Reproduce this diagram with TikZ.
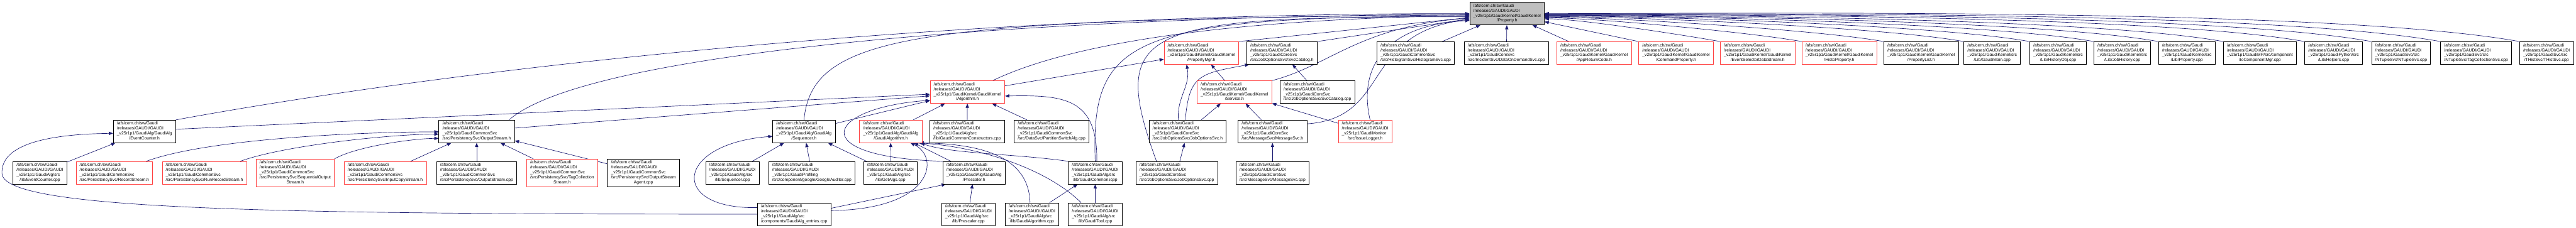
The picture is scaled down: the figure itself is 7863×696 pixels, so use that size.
\documentclass[tikz,border=0pt]{standalone}
\usepackage{fontspec}
\setmainfont{Liberation Sans}
\usepackage{tikz}
\usetikzlibrary{arrows.meta,backgrounds}
\definecolor{dxblue}{rgb}{0.10,0.10,0.44}
\definecolor{dxred}{rgb}{1.00,0.25,0.25}
\definecolor{dxgrey}{rgb}{0.75,0.75,0.75}
\newcommand{\gfile}[2]{\begin{tabular}{@{}l@{}}/afs/cern.ch/sw/Gaudi\\/releases/GAUDI/GAUDI\\\_v25r1p1/#1\\\multicolumn{1}{@{}c@{}}{#2}\end{tabular}}

\begin{document}
\begin{tikzpicture}[
  x=1pt, y=-1pt,
  fbox/.style={draw=black, line width=1.3pt, fill=white, inner xsep=11pt, inner ysep=4.5pt,
               font=\fontsize{13}{15}\selectfont},
  fred/.style={fbox, draw=dxred},
  fgrey/.style={fbox, fill=dxgrey},
  arr/.style={-{Triangle[length=13pt,width=10pt]}, dxblue, line width=1.3pt}
]
\useasboundingbox (0,0) rectangle (7863,696);

\node[fgrey] (prop) at (4600,41.5) {\gfile{GaudiKernel/GaudiKernel}{/Property.h}};

\node[fred] (propmgr) at (3667,162) {\gfile{GaudiKernel/GaudiKernel}{/PropertyMgr.h}};
\node[fbox] (svccath) at (3913,162) {\gfile{GaudiCoreSvc}{/src/JobOptionsSvc/SvcCatalog.h}};
\node[fbox] (histsvc) at (4321,162) {\gfile{GaudiCommonSvc}{/src/HistogramSvc/HistogramSvc.cpp}};
\node[fbox] (dods) at (4598,162) {\gfile{GaudiCoreSvc}{/src/IncidentSvc/DataOnDemandSvc.cpp}};
\node[fred] (apprc) at (4866,162) {\gfile{GaudiKernel/GaudiKernel}{/AppReturnCode.h}};
\node[fred] (cmdprop) at (5116,162) {\gfile{GaudiKernel/GaudiKernel}{/CommandProperty.h}};
\node[fred] (evsel) at (5365,162) {\gfile{GaudiKernel/GaudiKernel}{/EventSelectorDataStream.h}};
\node[fred] (histoprop) at (5614,162) {\gfile{GaudiKernel/GaudiKernel}{/HistoProperty.h}};
\node[fbox] (proplist) at (5864,162) {\gfile{GaudiKernel/GaudiKernel}{/PropertyList.h}};
\node[fbox] (gaudimain) at (6081,162) {\gfile{GaudiKernel/src}{/Lib/GaudiMain.cpp}};
\node[fbox] (histobj) at (6282,162) {\gfile{GaudiKernel/src}{/Lib/HistoryObj.cpp}};
\node[fbox] (jobhist) at (6478,162) {\gfile{GaudiKernel/src}{/Lib/JobHistory.cpp}};
\node[fbox] (propcpp) at (6675,162) {\gfile{GaudiKernel/src}{/Lib/Property.cpp}};
\node[fbox] (iocomp) at (6898,162) {\gfile{GaudiMP/src/component}{/IoComponentMgr.cpp}};
\node[fbox] (helpers) at (7123,162) {\gfile{GaudiPython/src}{/Lib/Helpers.cpp}};
\node[fbox] (ntuple) at (7329,162) {\gfile{GaudiSvc/src}{/NTupleSvc/NTupleSvc.cpp}};
\node[fbox] (tagcoll) at (7558,162) {\gfile{GaudiSvc/src}{/NTupleSvc/TagCollectionSvc.cpp}};
\node[fbox] (thist) at (7773,162) {\gfile{GaudiSvc/src}{/THistSvc/THistSvc.cpp}};

\node[fred] (algh) at (2953,281.5) {\gfile{GaudiKernel/GaudiKernel}{/Algorithm.h}};
\node[fred] (serviceh) at (3768,281.5) {\gfile{GaudiKernel/GaudiKernel}{/Service.h}};
\node[fbox] (svccatcpp) at (4021,281.5) {\gfile{GaudiCoreSvc}{/src/JobOptionsSvc/SvcCatalog.cpp}};

\node[fbox] (evcounth) at (441,401.5) {\gfile{GaudiAlg/GaudiAlg}{/EventCounter.h}};
\node[fbox] (outstreamh) at (1455,401.5) {\gfile{GaudiCommonSvc}{/src/PersistencySvc/OutputStream.h}};
\node[fbox] (seqh) at (2454,401.5) {\gfile{GaudiAlg/GaudiAlg}{/Sequencer.h}};
\node[fred] (gaudialgh) at (2719,401.5) {\gfile{GaudiAlg/GaudiAlg}{/GaudiAlgorithm.h}};
\node[fbox] (ctors) at (2952,401.5) {\gfile{GaudiAlg/src}{/lib/GaudiCommonConstructors.cpp}};
\node[fbox] (partsw) at (3210,401.5) {\gfile{GaudiCommonSvc}{/src/DataSvc/PartitionSwitchAlg.cpp}};
\node[fbox] (josvch) at (3625,401.5) {\gfile{GaudiCoreSvc}{/src/JobOptionsSvc/JobOptionsSvc.h}};
\node[fbox] (msgsvch) at (3884,401.5) {\gfile{GaudiCoreSvc}{/src/MessageSvc/MessageSvc.h}};
\node[fred] (issuelog) at (4167,401.5) {\gfile{GaudiMonitor}{/src/IssueLogger.h}};

\node[fbox] (evcountcpp) at (122,528) {\gfile{GaudiAlg/src}{/lib/EventCounter.cpp}};
\node[fred] (recstream) at (349,528) {\gfile{GaudiCommonSvc}{/src/PersistencySvc/RecordStream.h}};
\node[fred] (runrec) at (624,528) {\gfile{GaudiCommonSvc}{/src/PersistencySvc/RunRecordStream.h}};
\node[fred] (seqout) at (901,528) {\gfile{GaudiCommonSvc\\/src/PersistencySvc/SequentialOutput}{Stream.h}};
\node[fred] (inputcopy) at (1176,528) {\gfile{GaudiCommonSvc}{/src/PersistencySvc/InputCopyStream.h}};
\node[fbox] (outstreamcpp) at (1455,528) {\gfile{GaudiCommonSvc}{/src/PersistencySvc/OutputStream.cpp}};
\node[fred] (tagstream) at (1716,528) {\gfile{GaudiCommonSvc\\/src/PersistencySvc/TagCollection}{Stream.h}};
\node[fbox] (osagent) at (1964,528) {\gfile{GaudiCommonSvc\\/src/PersistencySvc/OutputStream}{Agent.cpp}};
\node[fbox] (seqcpp) at (2236,528) {\gfile{GaudiAlg/src}{/lib/Sequencer.cpp}};
\node[fbox] (google) at (2478,528) {\gfile{GaudiProfiling}{/src/component/google/GoogleAuditor.cpp}};
\node[fbox] (getalgs) at (2718,528) {\gfile{GaudiAlg/src}{/lib/GetAlgs.cpp}};
\node[fbox] (prescalerh) at (2973,528) {\gfile{GaudiAlg/GaudiAlg}{/Prescaler.h}};
\node[fbox] (gaudicommon) at (3343,528) {\gfile{GaudiAlg/src}{/lib/GaudiCommon.icpp}};
\node[fbox] (josvccpp) at (3592,528) {\gfile{GaudiCoreSvc}{/src/JobOptionsSvc/JobOptionsSvc.cpp}};
\node[fbox] (msgsvccpp) at (3884,528) {\gfile{GaudiCoreSvc}{/src/MessageSvc/MessageSvc.cpp}};

\node[fbox] (entries) at (2424,654.5) {\gfile{GaudiAlg/src}{/components/GaudiAlg\_entries.cpp}};
\node[fbox] (prescalercpp) at (2956,654.5) {\gfile{GaudiAlg/src}{/lib/Prescaler.cpp}};
\node[fbox] (gaudialgcpp) at (3150,654.5) {\gfile{GaudiAlg/src}{/lib/GaudiAlgorithm.cpp}};
\node[fbox] (gauditool) at (3343,654.5) {\gfile{GaudiAlg/src}{/lib/GaudiTool.cpp}};

\begin{scope}[on background layer]
\foreach \n/\s/\L in {evsel/-16/105, histoprop/-13/154, proplist/-11/203, gaudimain/-9/251,
    histobj/-7/290, jobhist/-6/329, propcpp/-5/367, iocomp/-4/406, helpers/-3/455,
    ntuple/-2/495, tagcoll/-1/536, thist/0/584}
  \draw[arr] (\n.north west) .. controls +(-\L,-0.18*\L) and +(\L,0) .. ([yshift=\s pt]prop.east);
\draw[arr] (cmdprop.north west) -- ([yshift=-25pt]prop.east);
\draw[arr] (apprc) -- (prop);
\draw[arr] (dods) -- (prop);
\draw[arr] (histsvc) -- (prop);

\draw[arr] (evcounth.north east) .. controls (1500,190) and (3000,40) .. (prop.west);
\draw[arr] ([xshift=99pt]outstreamh.north) .. controls (1800,150) and (3200,50) .. ([yshift=-2pt]prop.west);
\draw[arr] (seqh.north) .. controls (2480,100) and (2800,60) .. ([yshift=-4pt]prop.west);
\draw[arr] ([xshift=77pt]algh.north) .. controls (3250,140) and (3700,60) .. ([yshift=-6pt]prop.west);
\draw[arr] (gaudicommon.north) .. controls (3330,120) and (3440,50) .. ([yshift=-8pt]prop.west);
\draw[arr] ([xshift=-62pt]josvccpp.north) .. controls (3380,80) and (3480,50) .. ([yshift=-10pt]prop.west);
\draw[arr] (propmgr.north east) -- ([yshift=-12pt]prop.west);
\draw[arr] (serviceh.north east) .. controls (4060,200) and (4150,80) .. ([yshift=-14pt]prop.west);
\draw[arr] (svccath.north east) -- ([yshift=-16pt]prop.west);
\draw[arr] ([yshift=23pt]msgsvch.east) .. controls (4250,360) and (4150,100) .. ([yshift=-18pt]prop.west);
\draw[arr] ([xshift=15pt]issuelog.north) .. controls (4150,230) and (4200,80) .. ([yshift=-21pt]prop.west);

\draw[arr] (evcountcpp) -- (evcounth);
\draw[arr] (entries.west) .. controls (800,655) and (10,640) .. (6,530)
  .. controls (2,440) and (150,410) .. ([yshift=-6pt]evcounth.west);
\draw[arr] ([yshift=6.5pt]evcounth.east) -- ([yshift=-6.5pt]algh.west);

\draw[arr] ([xshift=-20pt]recstream.north east) .. controls +(198,-72) and +(-211,0) .. ([yshift=-1.5pt]outstreamh.west);
\draw[arr] ([xshift=-20pt]runrec.north east) .. controls +(135,-49) and +(-143,0) .. ([yshift=-8.5pt]outstreamh.west);
\draw[arr] (seqout.north east) .. controls +(66,-38) and +(-76,0) .. ([yshift=-21.5pt]outstreamh.west);
\draw[arr] (inputcopy) -- (outstreamh);
\draw[arr] (outstreamcpp) -- (outstreamh);
\draw[arr] (tagstream) -- (outstreamh);
\draw[arr] (osagent) -- (outstreamh);
\draw[arr] ([yshift=10pt]outstreamh.east) -- ([yshift=-11.5pt]algh.west);

\draw[arr] (seqcpp) -- (seqh);
\draw[arr] (google) -- (seqh);
\draw[arr] (getalgs) -- (seqh);
\draw[arr] ([yshift=20pt]entries.west) .. controls (2040,640) and (2060,440) .. ([yshift=-15pt]seqh.west);
\draw[arr] ([yshift=24pt]seqh.east) -- ([yshift=-26pt]algh.west);

\draw[arr] (getalgs) -- (gaudialgh);
\draw[arr] (prescalerh) -- (gaudialgh);
\draw[arr] (prescalercpp) -- (prescalerh);
\draw[arr] ([yshift=18pt]entries.east) -- ([xshift=10pt]prescalerh.south west);
\draw[arr] ([yshift=11pt]entries.east) .. controls (2850,640) and (2870,480) .. ([xshift=60pt]gaudialgh.south);
\draw[arr] (gaudicommon.north west) .. controls (3100,470) and (2900,470) .. ([xshift=-5pt]gaudialgh.south east);
\draw[arr] ([xshift=-6pt]gaudialgcpp.north) .. controls (3140,480) and (3000,440) .. ([xshift=-8pt]gaudialgh.south east);
\draw[arr] ([xshift=-43pt]gauditool.north) .. controls (3200,520) and (3000,450) .. ([xshift=-12pt]gaudialgh.south east);
\draw[arr] (gaudialgcpp) -- (gaudicommon);
\draw[arr] (gauditool) -- (gaudicommon);

\draw[arr] (gaudialgh) -- (algh);
\draw[arr] (ctors) -- (algh);
\draw[arr] (partsw) -- (algh);
\draw[arr] (prescalerh.north west) .. controls (2450,480) and (2520,330) .. ([yshift=-25pt]algh.west);
\draw[arr] ([xshift=5pt]gaudicommon.north) .. controls (3350,300) and (3250,290) .. ([yshift=-12pt]algh.east);
\draw[arr] (algh) -- (propmgr);

\draw[arr] (serviceh) -- (propmgr);
\draw[arr] ([xshift=-28pt]josvch.north) .. controls +(-6,-67) and +(12,66) .. ([xshift=-45pt]propmgr.south);
\draw[arr] ([xshift=-7pt]josvch.north) .. controls (3630,230) and (3660,225) .. ([xshift=-100pt]svccath.south);
\draw[arr] (josvch) -- (serviceh);
\draw[arr] (josvccpp) -- (josvch);
\draw[arr] (msgsvch) -- (serviceh);
\draw[arr] (msgsvccpp) -- (msgsvch);
\draw[arr] (issuelog) -- (serviceh);
\draw[arr] (svccatcpp) -- (svccath);
\end{scope}
\end{tikzpicture}
\end{document}
